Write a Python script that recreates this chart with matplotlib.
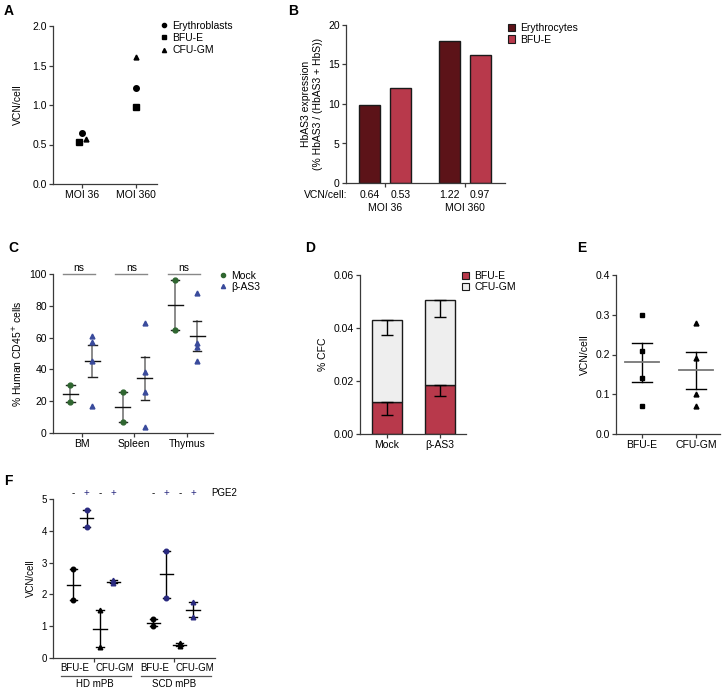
import numpy as np
import matplotlib
matplotlib.use('Agg')
from matplotlib import pyplot as plt
from matplotlib.lines import Line2D
from matplotlib.patches import Patch
import matplotlib.transforms as mtransforms

plt.rcParams['font.family'] = ['Liberation Sans', 'DejaVu Sans']
plt.rcParams['font.size'] = 7.5

# ---- data ----
# A
a_groups = ['MOI 36', 'MOI 360']
a_series = ['Erythroblasts', 'BFU-E', 'CFU-GM']
a_vcn = {'Erythroblasts': [0.64, 1.22], 'BFU-E': [0.53, 0.97], 'CFU-GM': [0.57, 1.61]}

# B
b_groups = ['MOI 36', 'MOI 360']
b_erythrocytes = [9.9, 18.0]
b_bfue = [12.0, 16.2]
b_vcn_labels = ['0.64', '0.53', '1.22', '0.97']

# C
c_tissues = ['BM', 'Spleen', 'Thymus']
c_mock = [[30.0, 19.5], [26.0, 7.0], [96.0, 65.0]]
c_bas3 = [[57.5, 61.0, 45.0, 17.0], [69.0, 38.5, 26.0, 4.0], [88.0, 56.5, 54.0, 45.0]]

# D
d_groups = ['Mock', 'β-AS3']
d_bfue = [0.0120, 0.0186]
d_bfue_err = [0.0048, 0.0043]
d_cfugm = [0.0310, 0.0319]
d_cfugm_err = [0.0058, 0.0063]

# E
e_groups = ['BFU-E', 'CFU-GM']
e_vcn = [[0.30, 0.21, 0.14, 0.07], [0.28, 0.19, 0.10, 0.07]]

# F
f_donors = ['HD mPB', 'SCD mPB']
f_types = ['BFU-E', 'CFU-GM']
f_pge2 = ['-', '+']
f_vcn = [[2.80, 1.82], [4.65, 4.13], [1.50, 0.35], [2.45, 2.35],
         [1.22, 1.00], [3.38, 1.88], [0.47, 0.37], [1.75, 1.30]]

# ---- layout ----
W, H = 723, 688
fig = plt.figure(figsize=(W / 100, H / 100), dpi=100)

AX_COL = '#3a3a3a'
FS = 7.5


def px_axes(x0, y0, x1, y1):
    return fig.add_axes([x0 / W, 1 - y1 / H, (x1 - x0) / W, (y1 - y0) / H])


def style(ax, fs=FS):
    for s in ['top', 'right']:
        ax.spines[s].set_visible(False)
    for s in ['left', 'bottom']:
        ax.spines[s].set_color(AX_COL)
        ax.spines[s].set_linewidth(0.9)
    ax.tick_params(length=3, width=0.9, color=AX_COL, labelsize=fs, pad=1.5)


def letter(x, y, s):
    fig.text(x / W, 1 - y / H, s, fontsize=10, fontweight='bold', va='center', ha='left')


def legend(ax, handles, labels, x, y, spacing=0.25):
    ax.legend(handles, labels, loc='upper left', bbox_to_anchor=(x / W, 1 - y / H),
              bbox_transform=fig.transFigure, frameon=False, fontsize=FS,
              handlelength=0.7, handletextpad=0.5, labelspacing=spacing,
              borderpad=0, borderaxespad=0)


def sem(v):
    v = np.asarray(v)
    return v.std(ddof=1) / np.sqrt(len(v))


# ---- A ----
letter(4, 11, 'A')
ax = px_axes(53, 26, 157, 184)
style(ax)
a_markers = {'Erythroblasts': 'o', 'BFU-E': 's', 'CFU-GM': '^'}
a_dodge = {'Erythroblasts': 0.0, 'BFU-E': -0.06, 'CFU-GM': 0.07}
handles = []
for name in a_series:
    xs = np.arange(len(a_groups)) + np.array([a_dodge[name], 0])
    ax.plot(xs, a_vcn[name], ls='none', marker=a_markers[name], color='black',
            ms=4 if name != 'CFU-GM' else 3.5)
    handles.append(Line2D([], [], ls='none', marker=a_markers[name], color='black', ms=3))
ax.set_xlim(-0.54, 1.39)
ax.set_ylim(0, 2.0)
ax.set_yticks([0, 0.5, 1.0, 1.5, 2.0])
ax.set_yticklabels(['0.0', '0.5', '1.0', '1.5', '2.0'])
ax.set_xticks(range(len(a_groups)))
ax.set_xticklabels(a_groups)
ax.set_ylabel('VCN/cell', fontsize=FS, labelpad=7)
legend(ax, handles, a_series, 160, 21, spacing=0.2)

# ---- B ----
letter(288, 11, 'B')
ax = px_axes(346, 25, 505, 183)
style(ax)
b_pos = np.array([0, 2.62])
bw = 0.69
ax.bar(b_pos, b_erythrocytes, width=bw, color='#5c1318', edgecolor='#1a1a1a', linewidth=1)
ax.bar(b_pos + 1, b_bfue, width=bw, color='#b8394b', edgecolor='#1a1a1a', linewidth=1)
ax.set_xlim(-0.78, 4.44)
ax.set_ylim(0, 20)
ax.set_yticks([0, 5, 10, 15, 20])
ax.set_xticks(b_pos + 0.5)
ax.set_xticklabels([])
ax.set_ylabel('HbAS3 expression\n(% HbAS3 / (HbAS3 + HbS))', fontsize=FS, labelpad=4)
trans = mtransforms.blended_transform_factory(ax.transData, fig.transFigure)
bar_x = np.sort(np.concatenate([b_pos, b_pos + 1]))
for xv, lab in zip(bar_x, b_vcn_labels):
    ax.text(xv, 1 - 195 / H, lab, transform=trans, ha='center', va='center', fontsize=FS)
for xv, lab in zip(b_pos + 0.5, b_groups):
    ax.text(xv, 1 - 208 / H, lab, transform=trans, ha='center', va='center', fontsize=FS)
fig.text(347 / W, 1 - 195 / H, 'VCN/cell:', ha='right', va='center', fontsize=FS)
legend(ax, [Patch(facecolor='#5c1318', edgecolor='#1a1a1a', lw=0.8),
            Patch(facecolor='#b8394b', edgecolor='#1a1a1a', lw=0.8)],
       ['Erythrocytes', 'BFU-E'], 508, 23, spacing=0.15)

# ---- C ----
letter(8, 248, 'C')
ax = px_axes(53, 274, 213, 433)
style(ax)
mock_col = '#2f6630'
b_col = '#3a4b9c'
for i, (m, b) in enumerate(zip(c_mock, c_bas3)):
    for vals, off, mk, col, ms in [(m, -0.22, 'o', mock_col, 3.5), (b, 0.2, '^', b_col, 3.5)]:
        x0 = i + off
        mu, se = np.mean(vals), sem(vals)
        ax.plot([x0] * len(vals), vals, ls='none', marker=mk, color=col, ms=ms, zorder=3)
        ax.plot([x0, x0], [mu - se, mu + se], color='#777777', lw=1.2, zorder=2)
        ax.plot([x0 - 0.08, x0 + 0.08], [mu - se] * 2, color='#222222', lw=1, zorder=2)
        ax.plot([x0 - 0.08, x0 + 0.08], [mu + se] * 2, color='#222222', lw=1, zorder=2)
        ax.plot([x0 - 0.14, x0 + 0.14], [mu, mu], color='#111111', lw=1, zorder=2)
    ax.plot([i - 0.36, i + 0.25], [100, 100], color='#888888', lw=1, clip_on=False)
    ax.text(i - 0.05, 100.5, 'ns', ha='center', va='bottom', fontsize=FS)
ax.set_xlim(-0.55, 2.5)
ax.set_ylim(0, 100)
ax.set_yticks(range(0, 101, 20))
ax.set_xticks(range(len(c_tissues)))
ax.set_xticklabels(c_tissues)
ax.set_ylabel('% Human CD45$^{+}$ cells', fontsize=FS, labelpad=4)
legend(ax, [Line2D([], [], ls='none', marker='o', color=mock_col, ms=3),
            Line2D([], [], ls='none', marker='^', color=b_col, ms=3)],
       ['Mock', 'β-AS3'], 219, 271, spacing=0.1)

# ---- D ----
letter(305, 248, 'D')
ax = px_axes(360, 275, 466, 434)
style(ax)
d_pos = np.arange(len(d_groups))
dw = 0.57
ax.bar(d_pos, d_bfue, width=dw, color='#b8394b', edgecolor='#1a1a1a', linewidth=1)
ax.bar(d_pos, d_cfugm, width=dw, bottom=d_bfue, color='#eeeeee', edgecolor='#1a1a1a', linewidth=1)
tot = np.array(d_bfue) + np.array(d_cfugm)
ax.errorbar(d_pos, d_bfue, yerr=[d_bfue_err, np.zeros(2)], fmt='none', ecolor='black',
            elinewidth=1, capsize=4.5, capthick=1)
ax.errorbar(d_pos, tot, yerr=[d_cfugm_err, np.zeros(2)], fmt='none', ecolor='black',
            elinewidth=1, capsize=4.5, capthick=1)
ax.set_xlim(-0.51, 1.5)
ax.set_ylim(0, 0.06)
ax.set_yticks([0, 0.02, 0.04, 0.06])
ax.set_yticklabels(['0.00', '0.02', '0.04', '0.06'])
ax.set_xticks(d_pos)
ax.set_xticklabels(d_groups)
ax.set_ylabel('% CFC', fontsize=FS, labelpad=4)
legend(ax, [Patch(facecolor='#b8394b', edgecolor='#1a1a1a', lw=0.8),
            Patch(facecolor='#eeeeee', edgecolor='#1a1a1a', lw=0.8)],
       ['BFU-E', 'CFU-GM'], 462, 271, spacing=0.1)

# ---- E ----
letter(577, 248, 'E')
ax = px_axes(616, 275, 720, 434)
style(ax)
for i, (vals, mk) in enumerate(zip(e_vcn, ['s', '^'])):
    mu, se = np.mean(vals), sem(vals)
    ax.plot([i] * len(vals), vals, ls='none', marker=mk, color='black', ms=3.5, zorder=3)
    ax.plot([i, i], [mu - se, mu + se], color='black', lw=1)
    ax.plot([i - 0.19, i + 0.19], [mu - se] * 2, color='black', lw=1)
    ax.plot([i - 0.19, i + 0.19], [mu + se] * 2, color='black', lw=1)
    ax.plot([i - 0.31, i + 0.31], [mu, mu], color='#777777', lw=1.3)
ax.set_xlim(-0.48, 1.44)
ax.set_ylim(0, 0.4)
ax.set_yticks([0, 0.1, 0.2, 0.3, 0.4])
ax.set_yticklabels(['0.0', '0.1', '0.2', '0.3', '0.4'])
ax.set_xticks(range(len(e_groups)))
ax.set_xticklabels(e_groups)
ax.set_ylabel('VCN/cell', fontsize=FS, labelpad=4)

# ---- F ----
FF = 7
letter(4, 481, 'F')
ax = px_axes(53, 499, 215, 658)
style(ax, FF)
f_pos = [0, 1, 2, 3, 6, 7, 8, 9]
navy = '#2a2a80'
k = 0
for d in range(len(f_donors)):
    for t in range(len(f_types)):
        for p in range(len(f_pge2)):
            vals = f_vcn[k]
            x0 = f_pos[k]
            col = 'black' if f_pge2[p] == '-' else navy
            mk = 'o' if f_types[t] == 'BFU-E' else '^'
            mu, se = np.mean(vals), sem(vals)
            ax.plot([x0] * len(vals), vals, ls='none', marker=mk, color=col, ms=3.3, zorder=3)
            ax.plot([x0, x0], [mu - se, mu + se], color='black', lw=1)
            ax.plot([x0 - 0.27, x0 + 0.27], [mu - se] * 2, color='black', lw=1)
            ax.plot([x0 - 0.27, x0 + 0.27], [mu + se] * 2, color='black', lw=1)
            ax.plot([x0 - 0.5, x0 + 0.5], [mu, mu], color='black', lw=1)
            ax.text(x0, 5.2, f_pge2[p], ha='center', va='center', fontsize=FF,
                    color=col, clip_on=False)
            k += 1
ax.text(10.35, 5.2, 'PGE2', ha='left', va='center', fontsize=FF)
ax.set_xlim(-1.53, 10.65)
ax.set_ylim(0, 5)
ax.set_yticks(range(6))
ax.set_xticks([1.55, 7.55])
ax.set_xticklabels([])
ax.set_ylabel('VCN/cell', fontsize=FF, labelpad=4)
trans = mtransforms.blended_transform_factory(ax.transData, fig.transFigure)
for d, base in enumerate([0, 6]):
    ax.text(base + 1.55 - 0.35, 1 - 668 / H, f_types[0], transform=trans,
            ha='right', va='center', fontsize=FF)
    ax.text(base + 1.55 + 0.15, 1 - 668 / H, f_types[1], transform=trans,
            ha='left', va='center', fontsize=FF)
    ax.plot([base - 0.95, base + 4.35], [1 - 676 / H] * 2, transform=trans,
            color='#555555', lw=0.9, clip_on=False)
    ax.text(base + 1.6, 1 - 684 / H, f_donors[d], transform=trans,
            ha='center', va='center', fontsize=FF)

fig.savefig('out.png', dpi=100)
